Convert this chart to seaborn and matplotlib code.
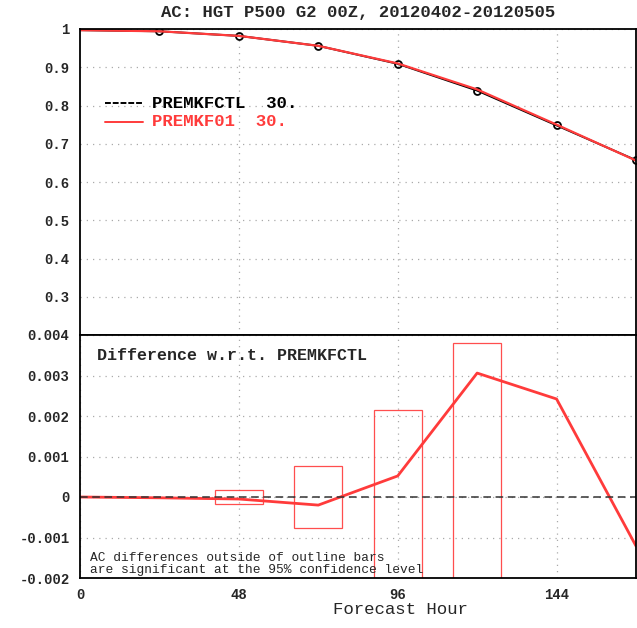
import matplotlib
matplotlib.use("Agg")
import matplotlib.pyplot as plt
import seaborn as sns
import pandas as pd
from matplotlib.patches import Rectangle

hours = [0, 24, 48, 72, 96, 120, 144, 168]
ctl = [0.997, 0.994, 0.982, 0.956, 0.909, 0.839, 0.748, 0.657]
exp = [0.997, 0.994, 0.982, 0.956, 0.910, 0.842, 0.750, 0.656]
diff = [0.0, -0.00002, -0.00005, -0.0002, 0.00052, 0.00306, 0.00242, -0.00121]
bar_hours = [48, 72, 96, 120]
bar_half = [0.00018, 0.00076, 0.00214, 0.0038]
legend_names = ["PREMKFCTL  30.", "PREMKF01  30."]
title = "AC: HGT P500 G2 00Z, 20120402-20120505"

sns.set_style("white")
plt.rcParams['font.family'] = ['Liberation Mono', 'DejaVu Sans Mono']
plt.rcParams['font.weight'] = 'bold'

RED = "#ff3b3b"
fig = plt.figure(figsize=(6.37, 6.28), dpi=100)
ax1 = fig.add_axes([80/637, 1-335/628, 556/637, 306/628])
ax2 = fig.add_axes([80/637, 1-578/628, 556/637, 243/628])

df = pd.DataFrame({"hour": hours, "ctl": ctl, "exp": exp, "diff": diff})

sns.lineplot(data=df, x="hour", y="ctl", ax=ax1, color="black", lw=1.4,
             marker="o", markersize=5, markerfacecolor="none",
             markeredgecolor="black", markeredgewidth=1.3,
             markevery=list(range(1, len(hours))))
sns.lineplot(data=df, x="hour", y="exp", ax=ax1, color=RED, lw=1.6)

ax1.set_xlim(0, 168)
ax1.set_ylim(0.2, 1.0)
ax1.set_yticks([0.3, 0.4, 0.5, 0.6, 0.7, 0.8, 0.9, 1.0])
ax1.set_yticklabels(["0.3", "0.4", "0.5", "0.6", "0.7", "0.8", "0.9", "1"])
ax1.set_xticks([48, 96, 144])
ax1.set_xticklabels([])
ax1.grid(True, color="#aaaaaa", linestyle=(0, (1, 4)), lw=0.9)
ax1.set_xlabel("")
ax1.set_ylabel("")
ax1.tick_params(axis="x", length=0)
ax1.tick_params(axis="y", length=4, width=1.2, labelsize=10, direction="out")

# legend drawn manually in axes coords
ax1.plot([25/556, 63/556], [1-(103-29)/306]*2, transform=ax1.transAxes, color="black", lw=1.4, linestyle=(0, (3, 1)))
ax1.plot([25/556, 63/556], [1-(122-29)/306]*2, transform=ax1.transAxes, color=RED, lw=1.4)
ax1.text(72/556, 1-(103-29)/306, legend_names[0], transform=ax1.transAxes, va="center",
         fontsize=12.5, color="black", fontweight="bold")
ax1.text(72/556, 1-(122-29)/306, legend_names[1], transform=ax1.transAxes, va="center",
         fontsize=12.5, color=RED, fontweight="bold")

# bottom panel
for h, hw in zip(bar_hours, bar_half):
    ax2.add_patch(Rectangle((h-7.25, -hw), 14.5, 2*hw, fill=False,
                            edgecolor=RED, lw=0.9, alpha=0.9, clip_on=True))
sns.lineplot(data=df, x="hour", y="diff", ax=ax2, color=RED, lw=2.0)
ax2.axhline(0, color="#333333", lw=1.1, linestyle=(0, (5, 3)))
ax2.set_xlim(0, 168)
ax2.set_ylim(-0.002, 0.004)
yt = [-0.002, -0.001, 0, 0.001, 0.002, 0.003, 0.004]
ax2.set_yticks(yt)
ax2.set_yticklabels(["-0.002", "-0.001", "0", "0.001", "0.002", "0.003", "0.004"])
ax2.set_xticks([0, 48, 96, 144])
ax2.set_xticklabels(["0", "48", "96", "144"])
ax2.grid(True, color="#aaaaaa", linestyle=(0, (1, 4)), lw=0.9)
ax2.set_xlabel("")
ax2.set_ylabel("")
ax2.tick_params(axis="both", length=4, width=1.2, labelsize=10, direction="out")

ax2.text(17/556, 1-(355-335)/243, "Difference w.r.t. PREMKFCTL", transform=ax2.transAxes,
         va="center", fontsize=12, fontweight="bold")
ax2.text(10/556, 1-(558-335)/243, "AC differences outside of outline bars",
         transform=ax2.transAxes, va="center", fontsize=9.3, fontweight="normal")
ax2.text(10/556, 1-(570-335)/243, "are significant at the 95% confidence level",
         transform=ax2.transAxes, va="center", fontsize=9.3, fontweight="normal")

for ax in (ax1, ax2):
    for s in ax.spines.values():
        s.set_color("black")
        s.set_linewidth(1.3)

fig.text(358/637, 1-12/628, title, ha="center", va="center", fontsize=12.4, fontweight="bold")
fig.text(400/637, 1-610/628, "Forecast Hour", ha="center", va="center", fontsize=12.5, fontweight="normal")

fig.savefig("out.png", dpi=100)
